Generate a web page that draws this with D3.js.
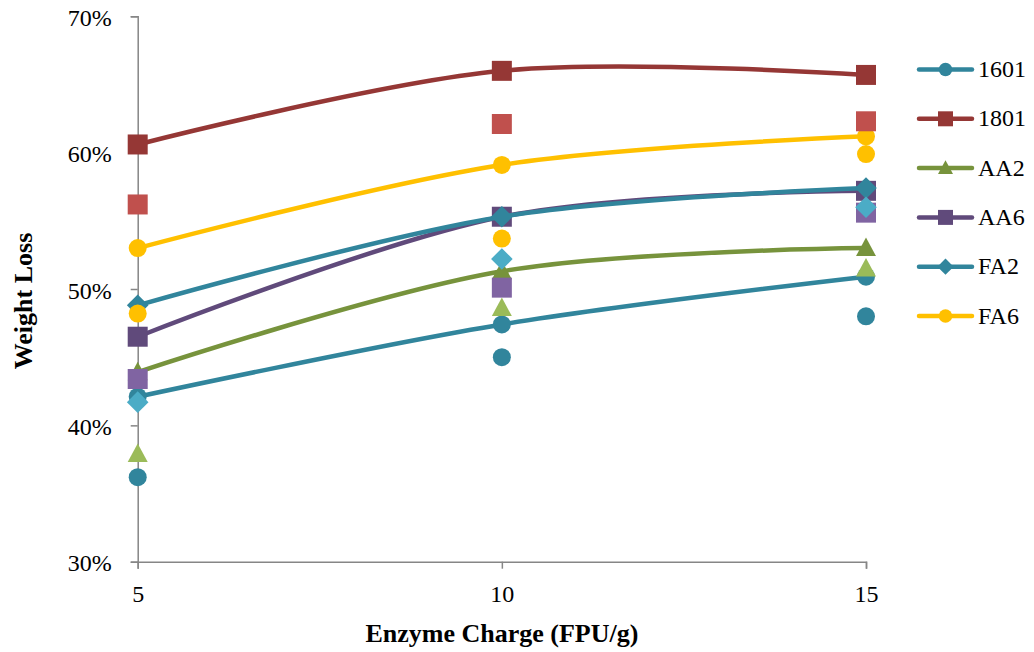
<!DOCTYPE html>
<html>
<head>
<meta charset="utf-8">
<script src="https://cdn.jsdelivr.net/npm/d3@7"></script>
<style>
  html, body { margin: 0; padding: 0; background: #fff; }
  svg { display: block; }
  text { font-family: "Liberation Serif", "Times New Roman", serif; fill: #000; }
</style>
</head>
<body>
<svg id="chart" width="1034" height="652"></svg>
<script>
// Enzyme charge levels (FPU/g)
const charges = [5, 10, 15];
const xTickLabels = ["5", "10", "15"];
const yTicks = [0.30, 0.40, 0.50, 0.60, 0.70];

// Series names shown in the legend
const seriesNames = ["1601", "1801", "AA2", "AA6", "FA2", "FA6"];

// Weight loss, first set (connected with smoothed lines)
const w1601 = [0.421, 0.474, 0.509];
const w1801 = [0.606, 0.660, 0.657];
const wAA2  = [0.439, 0.513, 0.530];
const wAA6  = [0.465, 0.553, 0.572];
const wFA2  = [0.488, 0.553, 0.574];
const wFA6  = [0.530, 0.591, 0.612];

// Weight loss, replicate set (markers only)
const r1601 = [0.362, 0.450, 0.480];
const r1801 = [0.562, 0.621, 0.623];
const rAA2  = [0.379, 0.486, 0.515];
const rAA6  = [0.434, 0.501, 0.556];
const rFA2  = [0.417, 0.522, 0.560];
const rFA6  = [0.482, 0.537, 0.599];

const seriesColors = ["#31859C", "#953735", "#77933C", "#604A7B", "#31859C", "#FFC000"];
const repColors    = ["#31859C", "#C0504D", "#9BBB59", "#8064A2", "#4BACC6", "#FFC000"];
const shapes       = ["circle", "square", "triangle", "square", "diamond", "circle"];
const firstSet     = [w1601, w1801, wAA2, wAA6, wFA2, wFA6];
const repSet       = [r1601, r1801, rAA2, rAA6, rFA2, rFA6];

const lineSeries = seriesNames.map((name, i) => ({
  name, values: firstSet[i], color: seriesColors[i], shape: shapes[i]
}));
const repSeries = seriesNames.map((name, i) => ({
  values: repSet[i], color: repColors[i], shape: shapes[i]
}));

const svg = d3.select("#chart");
const x = d3.scaleLinear().domain([5, 15]).range([137.7, 866]);
const y = d3.scaleLinear().domain([0.30, 0.70]).range([561.7, 16.3]);
const axisColor = "#868686";
const tickFont = "24px";

// Marker outline for each shape, centred at the origin
function markerPath(shape, s) {
  const h = s / 2;
  if (shape === "circle") {
    const r = s * 0.45;
    return `M${-r},0A${r},${r} 0 1,0 ${r},0A${r},${r} 0 1,0 ${-r},0Z`;
  }
  if (shape === "square") return `M${-h},${-h}H${h}V${h}H${-h}Z`;
  if (shape === "diamond") {
    const d = h * 1.08;
    return `M0,${-d}L${d},0L0,${d}L${-d},0Z`;
  }
  // triangle
  return `M0,${-h * 1.05}L${h},${h * 0.8}L${-h},${h * 0.8}Z`;
}

// Y axis
const yAxis = d3.axisLeft(y).tickValues(yTicks).tickFormat(d3.format(".0%")).tickSize(7).tickPadding(19);
const gy = svg.append("g").attr("transform", `translate(${x(5)},0)`).call(yAxis);
gy.select(".domain").attr("stroke", axisColor).attr("stroke-width", 1.5);
gy.selectAll(".tick line").attr("stroke", axisColor).attr("stroke-width", 1.5);
gy.selectAll(".tick text")
  .attr("dy", "0.38em")
  .style("font-family", "Liberation Serif, serif").style("font-size", tickFont).attr("fill", "#000");

// X axis
const xAxis = d3.axisBottom(x).tickValues(charges).tickFormat((d, i) => xTickLabels[i]).tickSize(7).tickPadding(16);
const gx = svg.append("g").attr("transform", `translate(0,${y(0.30)})`).call(xAxis);
gx.select(".domain").attr("stroke", axisColor).attr("stroke-width", 1.5);
gx.selectAll(".tick line").attr("stroke", axisColor).attr("stroke-width", 1.5);
gx.selectAll(".tick text").style("font-family", "Liberation Serif, serif").style("font-size", tickFont).attr("fill", "#000");

// Axis titles
svg.append("text")
  .attr("x", x(10)).attr("y", 641.5)
  .attr("text-anchor", "middle")
  .style("font-size", "26px").style("font-weight", "bold")
  .text("Enzyme Charge (FPU/g)");
svg.append("text")
  .attr("transform", `translate(32,301) rotate(-90)`)
  .attr("text-anchor", "middle")
  .style("font-size", "26px").style("font-weight", "bold")
  .text("Weight Loss");

// Smoothed lines with markers
const line = d3.line()
  .x((d, i) => x(charges[i]))
  .y(d => y(d))
  .curve(d3.curveCardinal.tension(0));

const plot = svg.append("g");
lineSeries.forEach(s => {
  const g = plot.append("g");
  g.append("path")
    .attr("d", line(s.values))
    .attr("fill", "none")
    .attr("stroke", s.color)
    .attr("stroke-width", 4.5)
    .attr("stroke-linecap", "round")
    .attr("stroke-linejoin", "round");
  g.selectAll("path.m").data(s.values).join("path")
    .attr("class", "m")
    .attr("transform", (d, i) => `translate(${x(charges[i])},${y(d)})`)
    .attr("d", markerPath(s.shape, 20))
    .attr("fill", s.color);
});

// Replicate markers
repSeries.forEach(s => {
  plot.append("g").selectAll("path").data(s.values).join("path")
    .attr("transform", (d, i) => `translate(${x(charges[i])},${y(d)})`)
    .attr("d", markerPath(s.shape, 20))
    .attr("fill", s.color);
});

// Legend
const legend = svg.append("g");
lineSeries.forEach((s, i) => {
  const ly = 69.5 + i * 49.3;
  const g = legend.append("g").attr("transform", `translate(0,${ly})`);
  g.append("line")
    .attr("x1", 919).attr("x2", 972).attr("y1", 0).attr("y2", 0)
    .attr("stroke", s.color).attr("stroke-width", 4.5).attr("stroke-linecap", "round");
  g.append("path")
    .attr("transform", "translate(945.5,0)")
    .attr("d", markerPath(s.shape, 15))
    .attr("fill", s.color);
  g.append("text")
    .attr("x", 978).attr("y", 7.5)
    .style("font-size", "24px")
    .text(s.name);
});
</script>
</body>
</html>
